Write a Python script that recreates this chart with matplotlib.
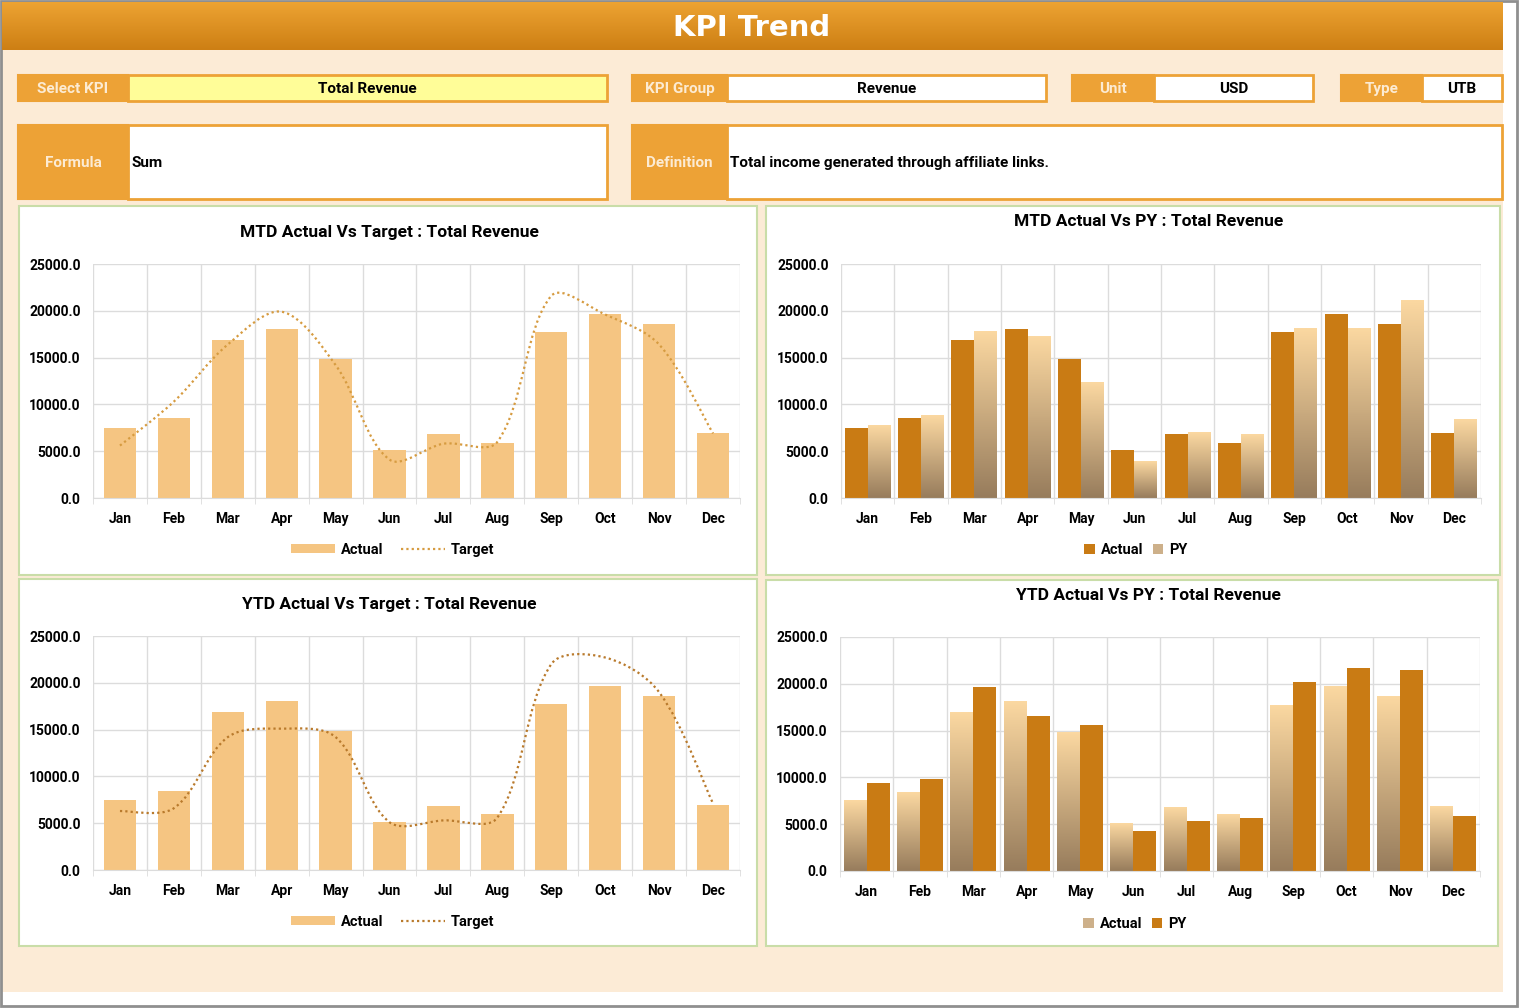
import numpy as np
import matplotlib
matplotlib.use("Agg")
import matplotlib.pyplot as plt
from matplotlib.patches import Rectangle, PathPatch, Patch
from matplotlib.path import Path
from matplotlib.lines import Line2D
from matplotlib.colors import LinearSegmentedColormap

plt.rcParams['font.family'] = ['Liberation Sans Narrow', 'Roboto', 'DejaVu Sans']

# data
months = ["Jan", "Feb", "Mar", "Apr", "May", "Jun", "Jul", "Aug", "Sep", "Oct", "Nov", "Dec"]
mtd_actual = [7500, 8500, 16900, 18100, 14900, 5100, 6800, 5900, 17700, 19700, 18600, 6900]
mtd_target = [5600, 10300, 16400, 19900, 14200, 4100, 5800, 6000, 21600, 19600, 16400, 6900]
mtd_py = [7700, 8800, 17800, 17300, 12300, 3900, 7000, 6800, 18100, 18100, 21100, 8400]
ytd_actual = [7500, 8400, 16900, 18100, 14800, 5100, 6800, 6000, 17700, 19700, 18600, 6900]
ytd_target = [6300, 6600, 14200, 15100, 14200, 5100, 5300, 5600, 22000, 22700, 19000, 7100]
ytd_py = [9400, 9800, 19700, 16600, 15600, 4300, 5300, 5700, 20200, 21700, 21500, 5900]

kpi_name = "Total Revenue"
kpi_group = "Revenue"
unit = "USD"
kpi_type = "UTB"
formula = "Sum"
definition = "Total income generated through affiliate links."

W, H = 1519, 1008
CREAM = "#FCEBD6"
ORANGE = "#EDA236"
LABEL_TXT = "#FCEBD3"
GREEN = "#C9DDA8"
GRID = "#DCDCDC"
LIGHT_BAR = "#F5C582"
DARK_BAR = "#C97B14"
GRAD_TOP = "#FBD8A1"
GRAD_BOT = "#977C5C"

fig = plt.figure(figsize=(W / 100, H / 100), dpi=100)
fig.patch.set_facecolor("white")

bg = fig.add_axes([0, 0, 1, 1])
bg.set_xlim(0, W)
bg.set_ylim(H, 0)
bg.axis("off")

# sheet background and outer frame
bg.add_patch(Rectangle((2, 2), 1501, 990, facecolor=CREAM, edgecolor="none"))
bg.add_patch(Rectangle((1, 1), W - 3, H - 3, facecolor="none", edgecolor="#8F8F8F", lw=2))

# header gradient
hdr_cmap = LinearSegmentedColormap.from_list("hdr", ["#EDA332", "#CD7F14"])
grad = np.linspace(0, 1, 64).reshape(-1, 1)
bg.imshow(grad, extent=[2, 1503, 50, 2], cmap=hdr_cmap, aspect="auto", zorder=1)
bg.set_xlim(0, W)
bg.set_ylim(H, 0)
bg.text(752, 28, "KPI Trend", color="white", fontsize=21, fontweight="bold",
        ha="center", va="center", family=["DejaVu Sans"], zorder=2)


def field(x0, x1, x2, y0, y1, label, value, fill="white", align="center"):
    bg.add_patch(Rectangle((x0, y0), x1 - x0, y1 - y0, facecolor=ORANGE, edgecolor=ORANGE, lw=1.5))
    bg.add_patch(Rectangle((x1, y0), x2 - x1, y1 - y0, facecolor=fill, edgecolor=ORANGE, lw=2))
    bg.text((x0 + x1) / 2, (y0 + y1) / 2 + 1, label, color=LABEL_TXT, fontsize=11,
            fontweight="bold", ha="center", va="center")
    if align == "center":
        bg.text((x1 + x2) / 2, (y0 + y1) / 2 + 1, value, color="black", fontsize=11,
                fontweight="bold", ha="center", va="center")
    else:
        bg.text(x1 + 3, (y0 + y1) / 2 + 1, value, color="black", fontsize=11,
                fontweight="bold", ha="left", va="center")


field(18, 128, 607, 75, 101, "Select KPI", kpi_name, fill="#FFFD98")
field(632, 727, 1046, 75, 101, "KPI Group", kpi_group)
field(1072, 1154, 1313, 75, 101, "Unit", unit)
field(1341, 1422, 1502, 75, 101, "Type", kpi_type)
field(18, 128, 607, 125, 199, "Formula", formula, align="left")
field(632, 727, 1502, 125, 199, "Definition", definition, align="left")

# chart panels
for (x0, y0, x1, y1) in [(19, 206, 757, 575), (766, 206, 1500, 575),
                         (19, 579, 757, 946), (766, 580, 1498, 946)]:
    bg.add_patch(Rectangle((x0, y0), x1 - x0, y1 - y0, facecolor="white", edgecolor=GREEN, lw=1.5))


def make_ax(left, right, top, bottom):
    ax = fig.add_axes([left / W, 1 - bottom / H, (right - left) / W, (bottom - top) / H])
    ax.set_facecolor("none")
    ax.set_xlim(-0.5, 11.5)
    ax.set_ylim(0, 25000)
    ax.set_yticks(range(0, 25001, 5000))
    ax.set_yticklabels([f"{v:.1f}" for v in range(0, 25001, 5000)])
    ax.set_xticks(range(12))
    ax.set_xticklabels(months)
    ax.set_xticks(np.arange(-0.5, 12, 1), minor=True)
    ax.grid(True, axis="y", color=GRID, lw=1)
    ax.grid(True, axis="x", which="minor", color=GRID, lw=1)
    ax.set_axisbelow(True)
    for s in ["top", "right", "left"]:
        ax.spines[s].set_visible(False)
    ax.spines["bottom"].set_color(GRID)
    ax.tick_params(axis="x", which="major", length=0, pad=10)
    ax.tick_params(axis="x", which="minor", length=4, color=GRID)
    ax.tick_params(axis="y", length=0, pad=9)
    for lab in ax.get_xticklabels() + ax.get_yticklabels():
        lab.set_fontweight("bold")
        lab.set_fontsize(10)
    return ax


def smooth_path(xs, ys, sx, sy):
    # bezier through the points, control arms weighted by pixel segment lengths
    pts = np.column_stack([xs, ys]).astype(float)
    px = pts * [sx, sy]
    n = len(pts)
    c_in = [None] * n
    c_out = [None] * n
    for i in range(n):
        if i == 0:
            c_out[i] = pts[0] + (pts[1] - pts[0]) / 6
            continue
        if i == n - 1:
            c_in[i] = pts[i] - (pts[i] - pts[i - 1]) / 6
            continue
        t = pts[i + 1] - pts[i - 1]
        d1 = np.hypot(*(px[i] - px[i - 1]))
        d2 = np.hypot(*(px[i + 1] - px[i]))
        c_in[i] = pts[i] - t * d1 / (d1 + d2) / 3
        c_out[i] = pts[i] + t * d2 / (d1 + d2) / 3
    verts = [pts[0]]
    codes = [Path.MOVETO]
    for i in range(n - 1):
        verts += [c_out[i], c_in[i + 1], pts[i + 1]]
        codes += [Path.CURVE4] * 3
    return Path(verts, codes)


def target_chart(box, actual, target, title, title_y, legend_y, line_color):
    ax = make_ax(*box)
    x = np.arange(12)
    ax.bar(x, actual, width=0.6, color=LIGHT_BAR, zorder=2)
    sx = (box[1] - box[0]) / 12
    sy = (box[3] - box[2]) / 25000
    ax.add_patch(PathPatch(smooth_path(x, target, sx, sy), facecolor="none", edgecolor=line_color,
                           lw=1.6, linestyle=(0, (1, 1.4)), zorder=3))
    fig.text(((box[0] + box[1]) / 2 - 27) / W, 1 - title_y / H, title, ha="center", va="center",
             fontsize=12.5, fontweight="bold")
    handles = [Patch(facecolor=LIGHT_BAR, edgecolor="none"),
               Line2D([], [], color=line_color, lw=1.6, linestyle=(0, (1, 1.4)))]
    ax.legend(handles, ["Actual", "Target"], loc="center", ncol=2, frameon=False,
              bbox_to_anchor=(((box[0] + box[1]) / 2 - 24) / W, 1 - legend_y / H),
              bbox_transform=fig.transFigure, handlelength=3.0, handleheight=0.6,
              handletextpad=0.4, columnspacing=1.2, prop={"weight": "bold", "size": 10.5})
    return ax


def gradient_bars(ax, bars):
    cmap = LinearSegmentedColormap.from_list("pg", [GRAD_TOP, GRAD_BOT])
    g = np.linspace(0, 1, 128).reshape(-1, 1)
    for b in bars:
        x0, y0 = b.get_x(), b.get_y()
        ax.imshow(g, extent=[x0, x0 + b.get_width(), y0, y0 + b.get_height()], cmap=cmap,
                  aspect="auto", zorder=2, origin="upper")
        b.set_visible(False)
    ax.set_xlim(-0.5, 11.5)
    ax.set_ylim(0, 25000)


def py_chart(box, actual, py, title, title_y, legend_y, actual_grad):
    ax = make_ax(*box)
    x = np.arange(12)
    w = 0.43
    if actual_grad:
        b1 = ax.bar(x - w / 2, actual, width=w, color=GRAD_TOP, zorder=2)
        ax.bar(x + w / 2, py, width=w, color=DARK_BAR, zorder=2)
        gradient_bars(ax, b1)
        handles = [Patch(facecolor="#CDB08A"), Patch(facecolor=DARK_BAR)]
    else:
        ax.bar(x - w / 2, actual, width=w, color=DARK_BAR, zorder=2)
        b2 = ax.bar(x + w / 2, py, width=w, color=GRAD_TOP, zorder=2)
        gradient_bars(ax, b2)
        handles = [Patch(facecolor=DARK_BAR), Patch(facecolor="#CDB08A")]
    fig.text(((box[0] + box[1]) / 2 - 12) / W, 1 - title_y / H, title, ha="center", va="center",
             fontsize=12.5, fontweight="bold")
    ax.legend(handles, ["Actual", "PY"], loc="center", ncol=2, frameon=False,
              bbox_to_anchor=(((box[0] + box[1]) / 2 - 25) / W, 1 - legend_y / H),
              bbox_transform=fig.transFigure, handlelength=0.7, handleheight=0.7,
              handletextpad=0.4, columnspacing=0.7, prop={"weight": "bold", "size": 10.5})
    return ax


target_chart((93, 740, 264, 498), mtd_actual, mtd_target,
             "MTD Actual Vs Target : Total Revenue", 232, 550, "#D69B40")
py_chart((841, 1481, 264, 498), mtd_actual, mtd_py,
         "MTD Actual Vs PY : Total Revenue", 222, 550, False)
target_chart((93, 740, 636, 870), ytd_actual, ytd_target,
             "YTD Actual Vs Target : Total Revenue", 605, 922, "#B97A2C")
py_chart((840, 1480, 637, 871), ytd_actual, ytd_py,
         "YTD Actual Vs PY : Total Revenue", 596, 924, True)

fig.savefig("out.png", dpi=100, facecolor=fig.get_facecolor())
